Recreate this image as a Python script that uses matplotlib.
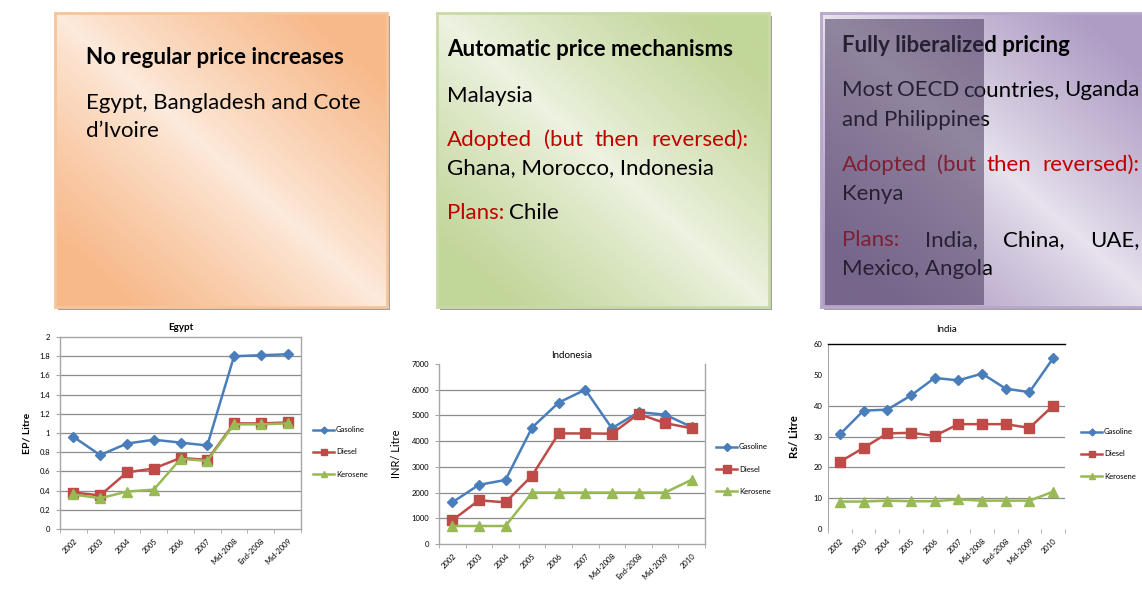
import numpy as np
import matplotlib
matplotlib.use("Agg")
import matplotlib.pyplot as plt
from matplotlib.colors import LinearSegmentedColormap
from matplotlib.patches import Rectangle

plt.rcParams['font.family'] = ['Lato', 'DejaVu Sans']

# ---------------- data ----------------
series_names = ["Gasoline", "Diesel", "Kerosene"]

egypt_cats = ["2002", "2003", "2004", "2005", "2006", "2007", "Mid-2008", "End-2008", "Mid-2009"]
egypt_gasoline = [0.96, 0.77, 0.89, 0.93, 0.90, 0.87, 1.80, 1.81, 1.82]
egypt_diesel = [0.38, 0.35, 0.59, 0.63, 0.74, 0.72, 1.10, 1.10, 1.11]
egypt_kerosene = [0.36, 0.32, 0.39, 0.41, 0.73, 0.71, 1.09, 1.09, 1.10]
egypt_yticks = [0, 0.2, 0.4, 0.6, 0.8, 1.0, 1.2, 1.4, 1.6, 1.8, 2.0]

indo_cats = ["2002", "2003", "2004", "2005", "2006", "2007", "Mid-2008", "End-2008", "Mid-2009", "2010"]
indo_gasoline = [1620, 2300, 2490, 4530, 5500, 6000, 4500, 5130, 5030, 4550]
indo_diesel = [920, 1700, 1620, 2660, 4300, 4300, 4290, 5060, 4700, 4500]
indo_kerosene = [700, 700, 700, 2000, 2000, 2000, 2000, 2000, 2000, 2500]
indo_yticks = [0, 1000, 2000, 3000, 4000, 5000, 6000, 7000]

india_cats = ["2002", "2003", "2004", "2005", "2006", "2007", "Mid-2008", "End-2008", "Mid-2009", "2010"]
india_gasoline = [30.7, 38.4, 38.7, 43.3, 49.0, 48.2, 50.4, 45.5, 44.4, 55.4]
india_diesel = [21.8, 26.3, 31.0, 31.2, 30.2, 34.0, 34.0, 34.0, 32.8, 40.0]
india_kerosene = [8.9, 8.9, 9.2, 9.0, 9.0, 9.6, 9.2, 9.2, 9.2, 12.1]
india_yticks = [0, 10, 20, 30, 40, 50, 60]

W, H = 1142, 589
fig = plt.figure(figsize=(W / 100, H / 100), dpi=100)
renderer = fig.canvas.get_renderer()

def fx(px):
    return px / W

def fy(py):
    return 1 - py / H

# ---------------- text boxes ----------------
def gradient_box(x0, y0, x1, y1, dark, light, edge):
    sh = Rectangle((fx(x0 + 3), fy(y1 + 3)), fx(x1 - x0), (y1 - y0) / H,
                   transform=fig.transFigure, facecolor="#a0a0a0", edgecolor="none", zorder=0)
    fig.patches.append(sh)
    ax = fig.add_axes([fx(x0), fy(y1), fx(x1 - x0), (y1 - y0) / H], zorder=1)
    n = 200
    xs = np.linspace(0, 1, n)
    ys = np.linspace(0, 1, n)
    X, Y = np.meshgrid(xs, ys)
    T = np.clip(np.abs(X - Y) * 1.3, 0, 1) ** 0.85
    cmap = LinearSegmentedColormap.from_list("g", [light, dark])
    ax.imshow(T, cmap=cmap, aspect="auto", extent=[0, 1, 1, 0], interpolation="bilinear")
    ax.set_xlim(0, 1)
    ax.set_ylim(1, 0)
    ax.set_xticks([])
    ax.set_yticks([])
    for s in ax.spines.values():
        s.set_color(edge)
        s.set_linewidth(2.0)
    return ax

gradient_box(55, 13, 387, 307, "#F7B98A", "#FDEBDD", "#F6C59B")
gradient_box(437, 13, 769, 307, "#C2D69A", "#EEF3E2", "#C9DAA8")
gradient_box(821, 13, 1160, 307, "#AE9CC4", "#E8E3EE", "#B7A8CB")

FS = 16.0
RED = "#C00000"

def t(px, py, s, color="black", bold=False, z=3):
    return fig.text(fx(px), fy(py), s, color=color, fontsize=FS,
                    fontweight="bold" if bold else "normal", va="center", ha="left", zorder=z)

def justify(words, x0, x1, py):
    # words: list of (text, color); spread words evenly between x0 and x1 (pixels)
    texts = [t(x0, py, w, c) for w, c in words]
    widths = [tx.get_window_extent(renderer).width for tx in texts]
    gap = (x1 - x0 - sum(widths)) / (len(words) - 1)
    x = x0
    for tx, w in zip(texts, widths):
        tx.set_x(fx(x))
        x += w + gap

# Box 1
t(86, 58, "No regular price increases", bold=True)
t(86, 103, "Egypt, Bangladesh and Cote")
t(86, 131, "d\u2019Ivoire")

# Box 2
t(447, 49, "Automatic price mechanisms", bold=True)
t(447, 96, "Malaysia")
justify([("Adopted", RED), ("(but", RED), ("then", RED), ("reversed):", RED)], 447, 748, 140)
t(447, 168, "Ghana, Morocco, Indonesia")
t(447, 213, "Plans:", RED)
t(509, 213, "Chile")

# Box 3
t(842, 46, "Fully liberalized pricing", bold=True)
justify([("Most", "black"), ("OECD", "black"), ("countries,", "black"), ("Uganda", "black")], 842, 1139, 90)
t(842, 120, "and Philippines")
justify([("Adopted", RED), ("(but", RED), ("then", RED), ("reversed):", RED)], 842, 1139, 165)
t(842, 194, "Kenya")
justify([("Plans:", RED), ("India,", "black"), ("China,", "black"), ("UAE,", "black")], 842, 1139, 240)
t(842, 269, "Mexico, Angola")

# dark overlay on left part of box 3
ov = Rectangle((fx(825), fy(305)), fx(984 - 825), (305 - 19) / H, transform=fig.transFigure,
               facecolor="#4A3A5E", edgecolor="none", alpha=0.55, zorder=4)
fig.patches.append(ov)

# ---------------- charts ----------------
BLUE = "#4A7EBB"
REDL = "#BE4B48"
GREEN = "#98B954"
GRID = "#8C8C8C"
AXC = "#A6A6A6"

def line_chart(rect, cats, g, d, k, yticks, ylabel, title, ylabel_bold,
               msz=(5, 6, 6), ylab_fmt=None, title_pad=4, ylabel_x=None, ylabel_fs=7.5):
    ax = fig.add_axes(rect, zorder=2)
    x = np.arange(len(cats))
    ax.plot(x, g, color=BLUE, lw=1.8, marker="D", ms=msz[0], label=series_names[0], zorder=3)
    ax.plot(x, d, color=REDL, lw=1.8, marker="s", ms=msz[1], label=series_names[1], zorder=3)
    ax.plot(x, k, color=GREEN, lw=1.8, marker="^", ms=msz[2], label=series_names[2], zorder=4)
    ax.set_xlim(-0.5, len(cats) - 0.5)
    ax.set_ylim(yticks[0], yticks[-1])
    ax.set_yticks(yticks)
    if ylab_fmt:
        ax.set_yticklabels([ylab_fmt(v) for v in yticks])
    ax.set_xticks(x)
    ax.set_xticklabels(cats, rotation=45, ha="right", rotation_mode="anchor", fontsize=5.5)
    ax.set_xticks(np.arange(len(cats) + 1) - 0.5, minor=True)
    ax.tick_params(axis="x", which="major", length=0, pad=6)
    ax.tick_params(axis="x", which="minor", length=3, color=AXC, direction="out")
    ax.tick_params(axis="y", length=3, color=AXC, labelsize=5.5, pad=4)
    ax.set_ylabel(ylabel, fontsize=ylabel_fs, fontweight="bold" if ylabel_bold else "normal")
    if ylabel_x is not None:
        ax.yaxis.set_label_coords(ylabel_x, 0.5)
    ax.set_title(title, fontsize=7, pad=title_pad)
    ax.set_facecolor("none")
    return ax

def add_legend(ax, px, py, ms):
    ax.legend(loc="center left", bbox_to_anchor=(fx(px), fy(py)), bbox_transform=fig.transFigure,
              frameon=False, fontsize=5.5, handlelength=2.8, labelspacing=2.0, handletextpad=0.2,
              markerscale=ms)

# Egypt
axE = line_chart([fx(60), fy(529), fx(241), 192 / H], egypt_cats, egypt_gasoline, egypt_diesel,
                 egypt_kerosene, egypt_yticks, "EP/ Litre", "Egypt", True,
                 msz=(5, 6.5, 6.5), ylab_fmt=lambda v: f"{v:g}", ylabel_x=-0.12, title_pad=5)
for v in egypt_yticks[1:-1]:
    axE.axhline(v, color=GRID, lw=0.9, zorder=1)
for s in axE.spines.values():
    s.set_color(AXC)
    s.set_linewidth(1.0)
axE.title.set_fontweight("bold")
add_legend(axE, 306, 452, 0.7)

# Indonesia
axI = line_chart([fx(439), fy(544), fx(266), 180 / H], indo_cats, indo_gasoline, indo_diesel,
                 indo_kerosene, indo_yticks, "INR/ Litre", "Indonesia", False,
                 msz=(5.5, 7.5, 7.5), ylabel_x=-0.14, ylabel_fs=8)
for v in indo_yticks[1:-1]:
    axI.axhline(v, color=GRID, lw=0.9, zorder=1)
axI.spines["top"].set_visible(False)
for s in ["left", "right", "bottom"]:
    axI.spines[s].set_color(AXC)
    axI.spines[s].set_linewidth(1.0)
add_legend(axI, 709, 469, 0.75)

# India
axN = line_chart([fx(828), fy(529), fx(237), 185 / H], india_cats, india_gasoline, india_diesel,
                 india_kerosene, india_yticks, "Rs/ Litre", "India", True,
                 msz=(5, 7, 6.5), ylabel_x=-0.12, title_pad=9, ylabel_fs=8)
for v in india_yticks[1:5]:
    axN.axhline(v, color=GRID, lw=0.9, zorder=1)
axN.spines["right"].set_visible(False)
axN.spines["bottom"].set_visible(False)
axN.spines["top"].set_color("black")
axN.spines["top"].set_linewidth(1.0)
axN.spines["left"].set_color(AXC)
axN.tick_params(axis="y", length=0)
add_legend(axN, 1074, 454, 0.7)

fig.savefig("out.png", dpi=100)
